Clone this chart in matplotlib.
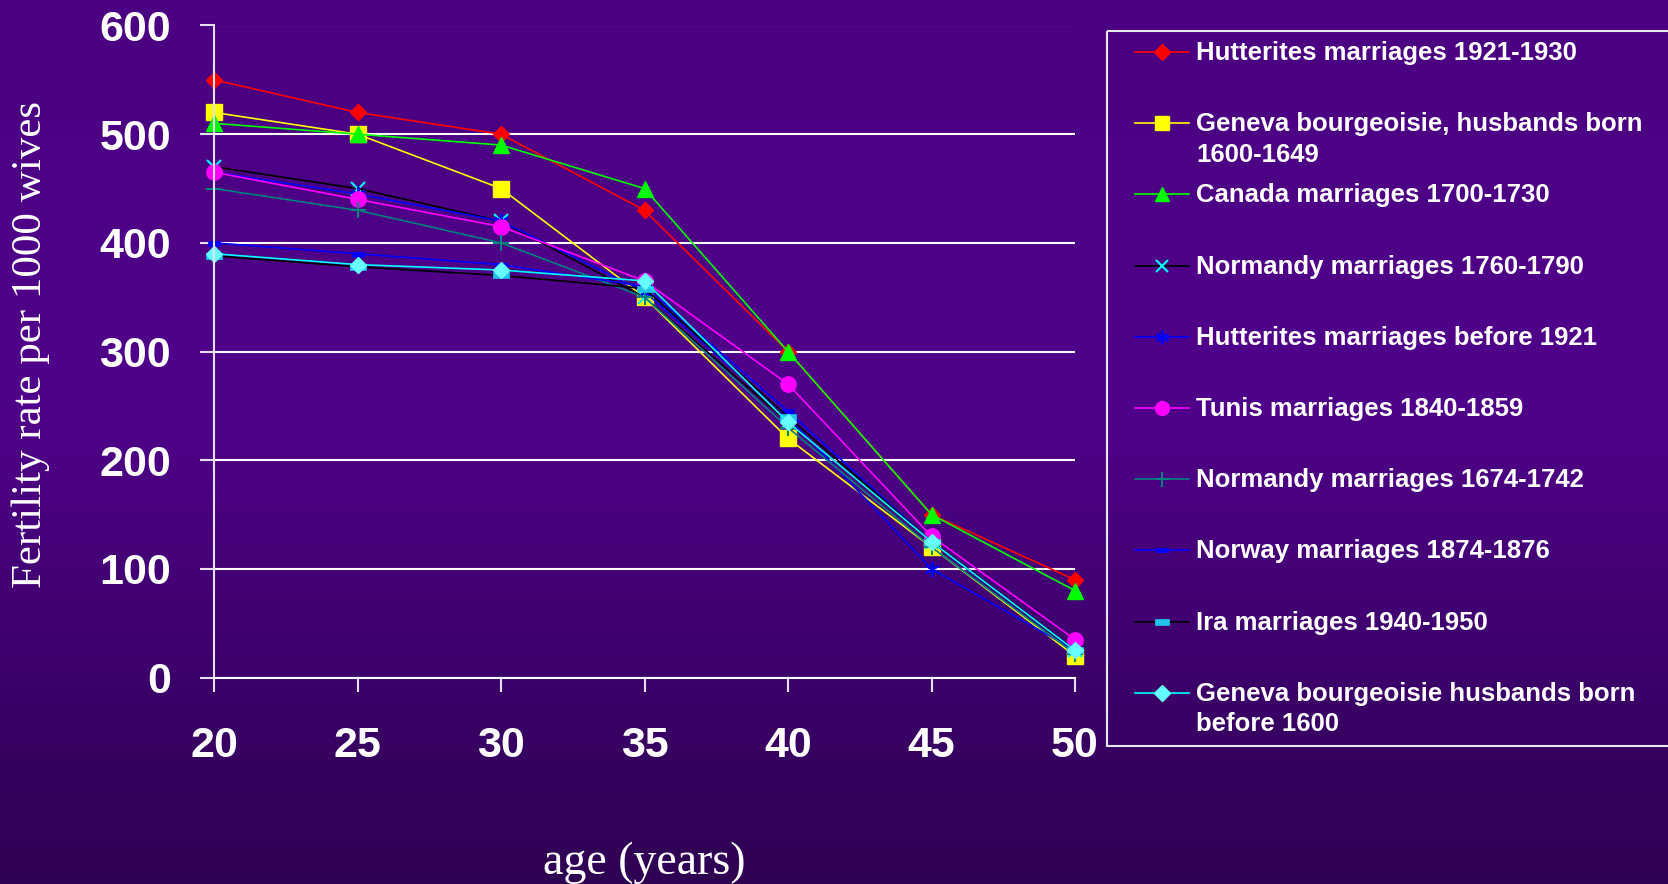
import numpy as np
import matplotlib.pyplot as plt
from matplotlib.patches import Rectangle

# age at which the rate is measured
ages = [20, 25, 30, 35, 40, 45, 50]

# fertility rate per 1000 wives, one list per population
hutterites_1921 = [550, 520, 500, 430, 300, 150, 90]
geneva_1600 = [520, 500, 450, 350, 220, 120, 20]
canada_1700 = [510, 500, 490, 450, 300, 150, 80]
normandy_1760 = [470, 450, 420, 350, 235, 125, 25]
hutterites_pre1921 = [465, 445, 420, 355, 240, 100, 25]
tunis_1840 = [465, 440, 415, 365, 270, 130, 35]
normandy_1674 = [450, 430, 400, 350, 230, 120, 22]
norway_1874 = [400, 390, 380, 360, 245, 125, 25]
ira_1940 = [388, 378, 370, 358, 240, 125, 25]
geneva_pre1600 = [390, 380, 375, 365, 235, 125, 25]

labels = [
    "Hutterites marriages 1921-1930",
    "Geneva bourgeoisie, husbands born\n1600-1649",
    "Canada marriages 1700-1730",
    "Normandy marriages 1760-1790",
    "Hutterites marriages before 1921",
    "Tunis marriages 1840-1859",
    "Normandy marriages 1674-1742",
    "Norway marriages 1874-1876",
    "Ira marriages 1940-1950",
    "Geneva bourgeoisie husbands born\nbefore 1600",
]

series = [hutterites_1921, geneva_1600, canada_1700, normandy_1760,
          hutterites_pre1921, tunis_1840, normandy_1674, norway_1874,
          ira_1940, geneva_pre1600]

dash = [(-1, -0.4), (1, -0.4), (1, 0.4), (-1, 0.4), (-1, -0.4)]

# line colour, marker, marker colour, marker size, marker edge width
styles = [
    ("#ff0000", "D", "#ff0000", 8.5, 1),
    ("#ffff00", "s", "#ffff00", 11, 1),
    ("#00ff00", "^", "#00ff00", 11, 1),
    ("#000000", "x", "#00ffff", 10, 1.5),
    ("#0000ff", (6, 2, 0), "#0000ff", 11, 1.5),
    ("#ff00ff", "o", "#ff00ff", 11, 1),
    ("#008080", "+", "#008080", 12, 1.5),
    ("#0000ff", dash, "#0000ff", 9, 0.5),
    ("#000000", dash, "#22c4ee", 11, 0.5),
    ("#00ffff", "D", "#66ffff", 8.5, 1),
]

W, H = 1668, 884
fig = plt.figure(figsize=(W / 100, H / 100), dpi=100)

# slide background: purple gradient, darker towards the bottom
bg = fig.add_axes([0, 0, 1, 1], zorder=-10)
rows = np.linspace(0, 1, 400)
stops = [0.0, 0.45, 1.0]
rgb = np.stack([
    np.interp(rows, stops, [74, 80, 46]),
    np.interp(rows, stops, [0, 0, 0]),
    np.interp(rows, stops, [128, 138, 82]),
], axis=1) / 255.0
bg.imshow(rgb[:, None, :], aspect="auto", extent=[0, 1, 0, 1])
bg.axis("off")

ax = fig.add_axes([214 / W, 1 - 677.6 / H, (1075 - 214) / W, (677.6 - 25.5) / H])
ax.patch.set_alpha(0)

for vals, (lc, mk, mc, ms, mew) in zip(series, styles):
    ax.plot(ages, vals, color=lc, lw=1.2, marker=mk, markersize=ms,
            markerfacecolor=mc, markeredgecolor=mc, markeredgewidth=mew,
            clip_on=False)

ax.set_xlim(20, 50)
ax.set_ylim(0, 600)
ax.set_xticks(ages)
ax.set_yticks(range(0, 601, 100))

tick_font = dict(family="Liberation Sans", weight="bold", size=31, color="white")
ax.set_xticklabels([str(a) for a in ages], **tick_font)
ax.set_yticklabels([str(v) for v in range(0, 601, 100)], **tick_font)
ax.tick_params(axis="y", length=10, width=1.5, color="#e8e0f0", pad=21)
ax.tick_params(axis="x", length=10, width=1.5, color="#e8e0f0", pad=25)

ax.yaxis.grid(True, color="white", lw=1.5)
ax.set_axisbelow(True)
for s in ("top", "right"):
    ax.spines[s].set_visible(False)
ax.spines["left"].set_color("#e8e0f0")
ax.spines["left"].set_linewidth(1.5)
ax.spines["bottom"].set_color("white")
ax.spines["bottom"].set_linewidth(1.5)

fig.text(31 / W, 1 - 344 / H, "Fertility rate per 1000 wives", rotation=90,
         ha="center", va="center", color="white", fontsize=31,
         family="Liberation Serif")
fig.text(644 / W, 1 - 863 / H, "age (years)", ha="center", va="center",
         color="white", fontsize=33, family="Liberation Serif")

# legend drawn in pixel coordinates on an overlay
leg = fig.add_axes([0, 0, 1, 1])
leg.set_xlim(0, W)
leg.set_ylim(H, 0)
leg.axis("off")
leg.add_patch(Rectangle((1107, 31), 700, 715, fill=False,
                        edgecolor="#e8e8f0", lw=1.5, clip_on=False))
for i, (lab, (lc, mk, mc, ms, mew)) in enumerate(zip(labels, styles)):
    y = 52 + 71.2 * i
    leg.plot([1135, 1189], [y, y], color=lc, lw=1.2)
    leg.plot([1162], [y], marker=mk, markersize=ms * 0.9,
             markerfacecolor=mc, markeredgecolor=mc, markeredgewidth=mew,
             linestyle="none")
    leg.text(1196, y - 11, lab, ha="left", va="top", color="white",
             fontsize=18.5, weight="bold", family="Liberation Sans",
             linespacing=1.35)

fig.savefig("out.png", dpi=100)
